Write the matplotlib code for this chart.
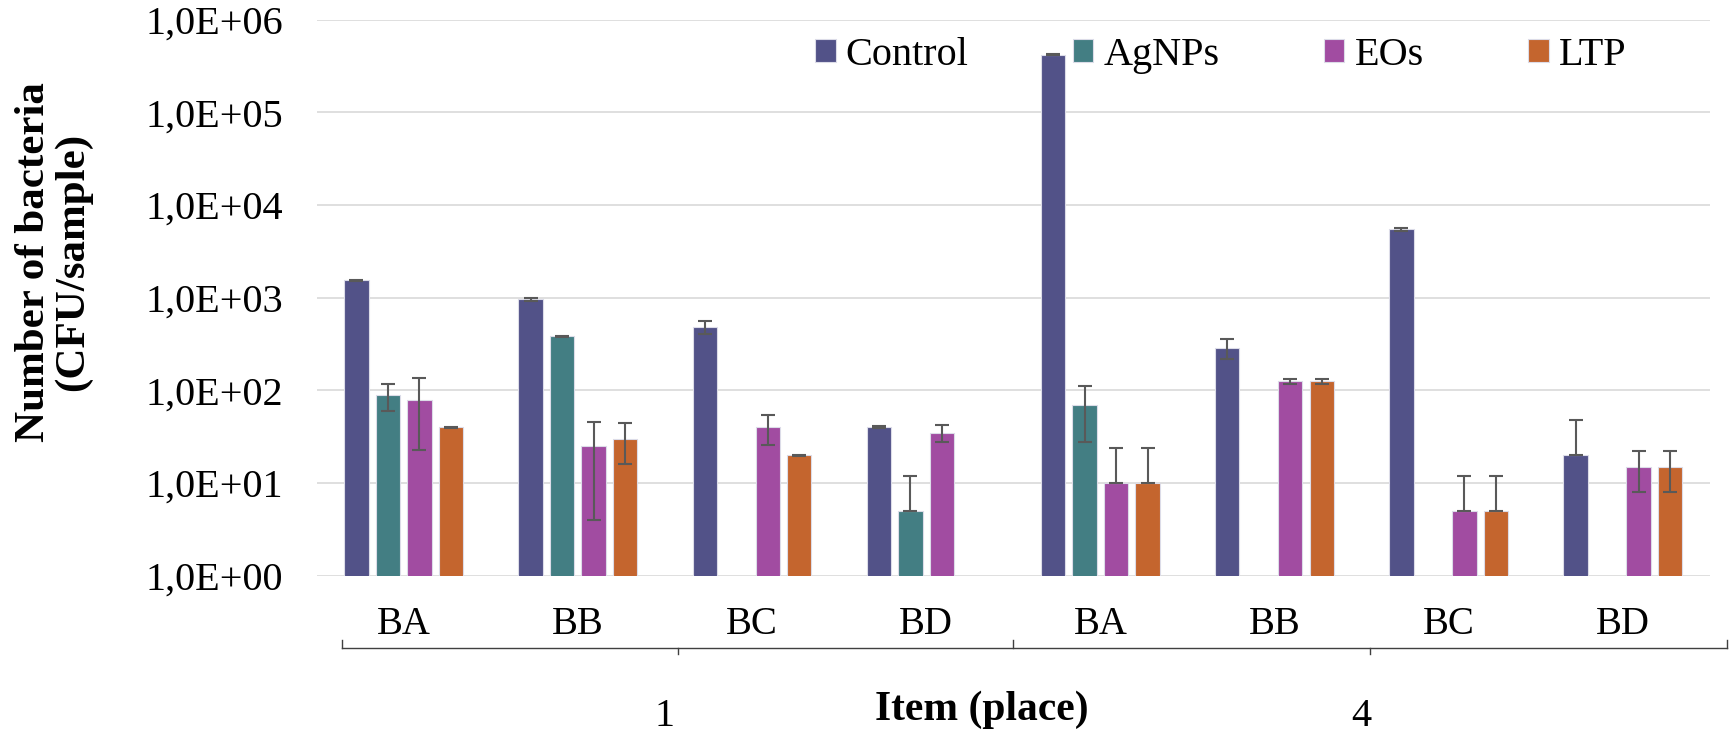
import numpy as np
import matplotlib
matplotlib.use("Agg")
import matplotlib.pyplot as plt
from matplotlib.ticker import FixedLocator, FuncFormatter
import matplotlib.transforms as mtransforms

plt.rcParams['font.family'] = ['Liberation Serif', 'DejaVu Serif']

# data (CFU/sample)
places = ["BA", "BB", "BC", "BD", "BA", "BB", "BC", "BD"]
items = ["1", "4"]
series = ["Control", "AgNPs", "EOs", "LTP"]
control = [1540, 960, 485, 40, 420000, 290, 5500, 20]
control_err = [30, 30, 75, 1, 5000, 70, 200, 28]
agnps = [89, 385, np.nan, 5, 70, np.nan, np.nan, np.nan]
agnps_err = [29, 6, 0, 7, 42, 0, 0, 0]
eos = [79, 25, 40, 35, 10, 125, 5, 15]
eos_err = [56, 21, 14, 7, 14, 8, 7, 7]
ltp = [40, 30, 20, np.nan, 10, 125, 5, 15]
ltp_err = [0.6, 14, 0.3, 0, 14, 8, 7, 7]

colors = ["#525288", "#437E83", "#A14CA1", "#C4652E"]
values = [control, agnps, eos, ltp]
errors = [control_err, agnps_err, eos_err, ltp_err]

fig = plt.figure(figsize=(17.29, 7.36), dpi=100)
ax = fig.add_axes([0.1831, 0.2178, 0.8059, 0.7554])

x = np.arange(len(places))
stride = 0.181
width = 0.14
for i, (name, vals, errs, col) in enumerate(zip(series, values, errors, colors)):
    vals = np.array(vals, dtype=float)
    errs = np.array(errs, dtype=float)
    pos = x + (i - 1.5) * stride
    ax.bar(pos, vals, width=width, color=col, edgecolor="#dcdce8", linewidth=0.8,
           label=name, zorder=2)
    # excel leaves out the lower whisker when it would go below zero
    lower = np.where(vals - errs > 0, errs, 0)
    ok = ~np.isnan(vals)
    ax.errorbar(pos[ok], vals[ok], yerr=[lower[ok], errs[ok]], fmt="none",
                ecolor="#595959", elinewidth=1.5, capsize=5, capthick=1.5, zorder=3)

ax.set_yscale("log")
ax.set_ylim(1, 1e6)
ax.set_xlim(-0.5, len(places) - 0.5)
ax.yaxis.set_major_locator(FixedLocator([10.0 ** k for k in range(7)]))
ax.yaxis.set_minor_locator(FixedLocator([]))
ax.yaxis.set_major_formatter(FuncFormatter(lambda v, p: "1,0E+%02d" % round(np.log10(v))))
ax.grid(axis="y", color="#D9D9D9", linewidth=1.2, zorder=0)
ax.set_axisbelow(True)
for s in ax.spines.values():
    s.set_visible(False)
ax.tick_params(axis="y", length=0, pad=24, labelsize=29)
ax.tick_params(axis="x", length=0, pad=22, labelsize=28)
ax.set_xticks(x)
ax.set_xticklabels(places)

# two-level category bracket under the place labels
trans = mtransforms.blended_transform_factory(ax.transData, ax.transAxes)
yb = -0.1295
edges = [-0.354, 3.5, 7.6]
ax.plot([edges[0], edges[-1]], [yb, yb], color="#404040", lw=1.0, transform=trans, clip_on=False)
for e in edges:
    ax.plot([e, e], [yb, yb + 0.013], color="#404040", lw=1.0, transform=trans, clip_on=False)
tb = mtransforms.blended_transform_factory(ax.transData, fig.transFigure)
for k, item in enumerate(items):
    mid = (edges[k] + edges[k + 1]) / 2
    ax.plot([mid, mid], [yb, yb - 0.011], color="#404040", lw=1.0, transform=trans, clip_on=False)
    ax.text(k * 4 + 1.5, 0.002, item, transform=tb, ha="center", va="bottom", fontsize=29)

fig.text(982 / 1729, 0.036, "Item (place)", ha="center", va="center", fontsize=30, fontweight="bold")
fig.text(0.031, 0.644, "Number of bacteria\n(CFU/sample)", rotation=90, ha="center", va="center",
         fontsize=31, fontweight="bold", multialignment="center", linespacing=1.0)

ax.legend(loc="center left", bbox_to_anchor=(0.358, 0.936), ncol=4, frameon=False, fontsize=29,
          handlelength=0.5, handleheight=0.5, handletextpad=0.25, columnspacing=2.6,
          borderpad=0, borderaxespad=0)

fig.savefig("out.png", dpi=100)
